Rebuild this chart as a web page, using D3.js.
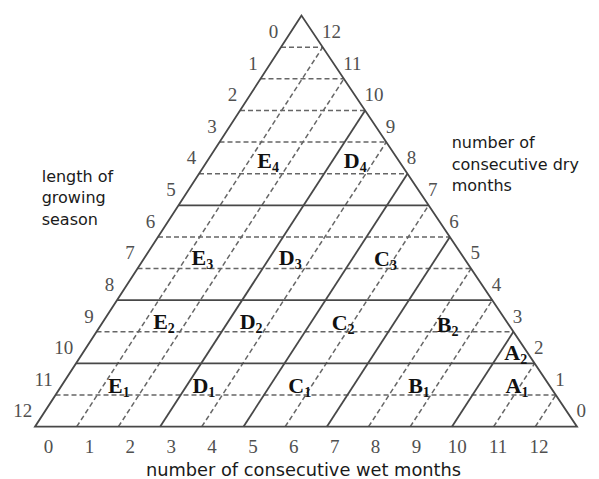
<!DOCTYPE html>
<html>
<head>
<meta charset="utf-8">
<script src="https://cdn.jsdelivr.net/npm/d3@7"></script>
<style>
    html, body { margin: 0; padding: 0; background: #fff; }
    svg { display: block; }
</style>
</head>
<body>
<svg id="chart" width="599" height="479"></svg>
<script>
// 13 grid levels from the apex down to the base
var levels = 13;

var seasonLabels = ["0", "1", "2", "3", "4", "5", "6", "7", "8", "9", "10", "11", "12"];
var dryLabels = ["12", "11", "10", "9", "8", "7", "6", "5", "4", "3", "2", "1", "0"];
var wetLabels = ["0", "1", "2", "3", "4", "5", "6", "7", "8", "9", "10", "11", "12"];

var solidRows = [6, 9, 11];
var dashedRows = [1, 2, 3, 4, 5, 7, 8, 10, 12];
var solidSlants = [3, 5, 7, 10];
var dashedSlants = [1, 2, 4, 6, 8, 9, 11, 12];

// zone labels, placed in grid coordinates (wet position, season level)
var zoneLetters = ["E", "D", "E", "D", "C", "E", "D", "C", "B", "A", "E", "D", "C", "B", "A"];
var zoneNumbers = ["4", "4", "3", "3", "3", "2", "2", "2", "2", "2", "1", "1", "1", "1", "1"];
var zoneWet = [1.57, 3.66, 1.5, 3.61, 5.91, 1.57, 3.66, 5.89, 8.43, 10.5, 1.48, 3.52, 5.82, 8.68, 11.03];
var zoneSeason = [4.82, 4.82, 7.89, 7.89, 7.92, 9.9, 9.9, 9.95, 10.02, 10.9, 11.92, 11.92, 11.92, 11.92, 11.92];

var svg = d3.select("#chart");

var y = d3.scaleLinear().domain([0, levels]).range([15.6, 426.7]);
var base = d3.scaleLinear().domain([0, levels]).range([35, 577]);
var lean = d3.scaleLinear().domain([levels, 0]).range([0, 301.5 - 35]);
var wetTickX = d3.scaleLinear().domain([0, 12]).range([48.5, 539]);

function px(s, h) {
    return base(s) + lean(h);
}

var line = d3.line().x(function (d) { return px(d[0], d[1]); }).y(function (d) { return y(d[1]); });

var solidColor = "#484848";
var dashColor = "#666";

function styleLine(sel, dashed) {
    sel.attr("fill", "none")
        .attr("stroke", dashed ? dashColor : solidColor)
        .attr("stroke-width", dashed ? 1.5 : 1.8)
        .attr("stroke-dasharray", dashed ? "5,3" : null);
}

function drawRows(rows, dashed) {
    svg.append("g").selectAll("path")
        .data(rows)
        .enter().append("path")
        .attr("d", function (h) { return line([[0, h], [h, h]]); })
        .call(styleLine, dashed);
}

function drawSlants(slants, dashed) {
    svg.append("g").selectAll("path")
        .data(slants)
        .enter().append("path")
        .attr("d", function (s) { return line([[s, levels], [s, s]]); })
        .call(styleLine, dashed);
}

drawRows(dashedRows, true);
drawSlants(dashedSlants, true);
drawRows(solidRows, false);
drawSlants(solidSlants, false);

// outline
svg.append("path")
    .attr("d", line([[0, 0], [0, levels], [levels, levels]]) + "Z")
    .call(styleLine, false)
    .attr("stroke-linejoin", "miter");

// tick numbers
var tickFont = "'Liberation Serif', 'Times New Roman', serif";
var tickColor = "#505050";

svg.append("g").selectAll("text")
    .data(seasonLabels)
    .enter().append("text")
    .attr("x", function (d, i) { return px(0, i + 0.5) - 13; })
    .attr("y", function (d, i) { return y(i + 0.5); })
    .attr("text-anchor", "end")
    .attr("dominant-baseline", "central")
    .style("font-family", tickFont)
    .style("font-size", "19px")
    .style("fill", tickColor)
    .text(function (d) { return d; });

svg.append("g").selectAll("text")
    .data(dryLabels)
    .enter().append("text")
    .attr("x", function (d, i) { return px(i + 0.5, i + 0.5) + 10; })
    .attr("y", function (d, i) { return y(i + 0.5); })
    .attr("text-anchor", "start")
    .attr("dominant-baseline", "central")
    .style("font-family", tickFont)
    .style("font-size", "19px")
    .style("fill", tickColor)
    .text(function (d) { return d; });

svg.append("g").selectAll("text")
    .data(wetLabels)
    .enter().append("text")
    .attr("x", function (d, i) { return wetTickX(i); })
    .attr("y", 453)
    .attr("text-anchor", "middle")
    .style("font-family", tickFont)
    .style("font-size", "19px")
    .style("fill", tickColor)
    .text(function (d) { return d; });

// zone labels
var zones = svg.append("g").selectAll("text")
    .data(zoneLetters)
    .enter().append("text")
    .attr("x", function (d, i) { return px(zoneWet[i], zoneSeason[i]); })
    .attr("y", function (d, i) { return y(zoneSeason[i]); })
    .attr("text-anchor", "middle")
    .style("font-family", tickFont)
    .style("font-weight", "bold")
    .style("font-size", "22px")
    .style("fill", "#111");
zones.append("tspan").text(function (d) { return d; });
zones.append("tspan")
    .attr("dy", 4)
    .style("font-size", "14px")
    .text(function (d, i) { return zoneNumbers[i]; });

// axis titles
var titleFont = "'DejaVu Sans', Verdana, sans-serif";

function title(lines, x, y0, anchor, size) {
    var t = svg.append("text")
        .attr("text-anchor", anchor)
        .style("font-family", titleFont)
        .style("font-size", size + "px")
        .style("fill", "#1a1a1a");
    t.selectAll("tspan")
        .data(lines)
        .enter().append("tspan")
        .attr("x", x)
        .attr("y", function (d, i) { return y0 + i * 21.6; })
        .text(function (d) { return d; });
}

title(["length of", "growing", "season"], 41.7, 181.7, "start", 16);
title(["number of", "consecutive dry", "months"], 451.7, 148, "start", 16);
title(["number of consecutive wet months"], 303.5, 476, "middle", 17.8);
</script>
</body>
</html>
